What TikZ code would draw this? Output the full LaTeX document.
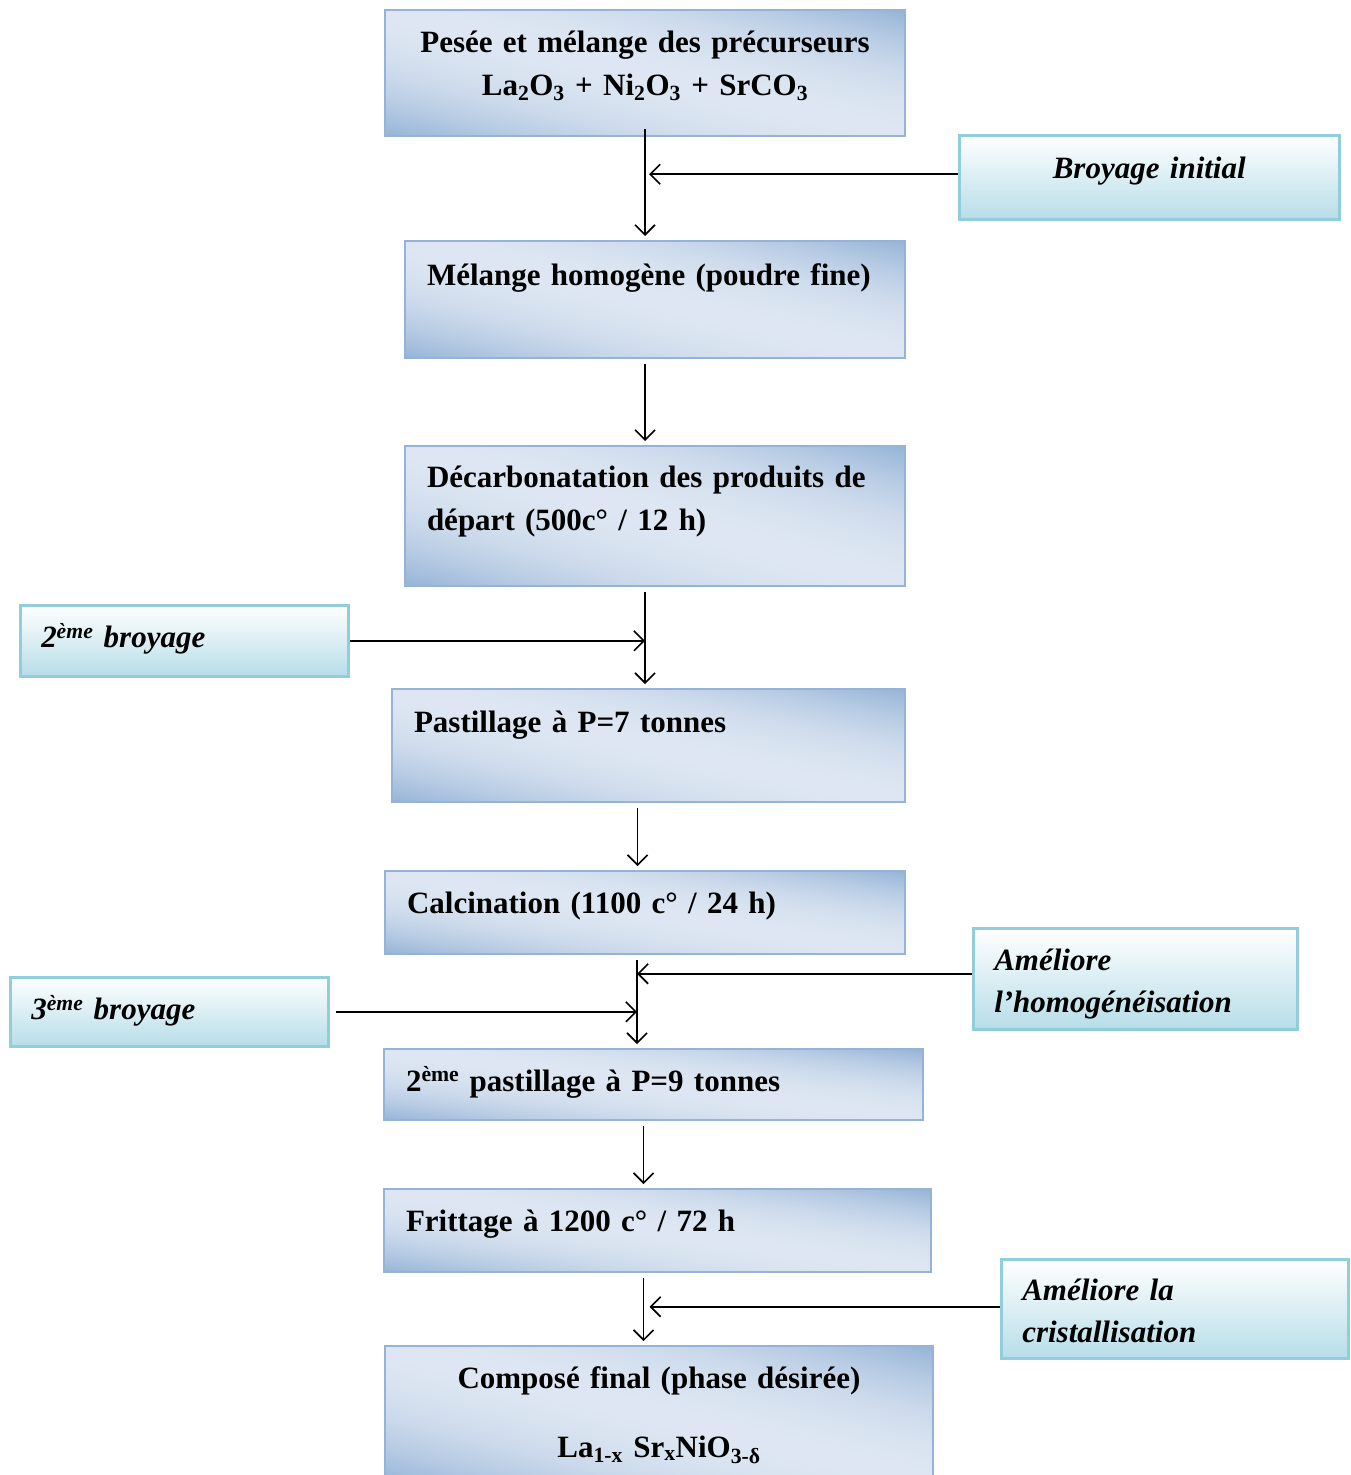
\documentclass[tikz,border=0pt]{standalone}
\usepackage{fontspec}
\setmainfont{Liberation Serif}
\usetikzlibrary{arrows.meta}

\definecolor{mline}{RGB}{149,179,215}
\definecolor{sline}{RGB}{146,205,220}
\definecolor{sdark}{RGB}{183,221,232}

% light along the diagonal, blue in the top-right and bottom-left corners
\pgfdeclarefunctionalshading{mainshade}{\pgfpoint{0bp}{0bp}}{\pgfpoint{100bp}{100bp}}{}{
	add 100 sub 50 div dup mul
	dup -0.283 mul 0.867 add exch
	dup -0.200 mul 0.902 add exch
	-0.106 mul 0.949 add
}

\begin{document}
\begin{tikzpicture}[x=1pt, y=-1pt,
	main/.style = {draw=mline, line width=2pt, shading=mainshade, anchor=north west, inner xsep=22pt, inner ysep=0pt, align=left, font=\fontsize{31}{43}\selectfont\bfseries},
	side/.style = {draw=sline, line width=2.5pt, top color=white, bottom color=sdark, anchor=north west, inner xsep=21pt, inner ysep=0pt, align=left, font=\fontsize{31}{42}\selectfont\bfseries\itshape},
	flow/.style = {-{Straight Barb[length=10pt,width=20pt]}, line width=1.6pt, shorten <=5pt, shorten >=4pt}]
	\useasboundingbox (0,0) rectangle (1351,1475);

	%% Nodes
	\node[main, align=center, text width=476pt, text height=42pt, text depth=84pt] (pesee) at (384,9) {Pesée et mélange des précurseurs\\La\textsubscript{2}O\textsubscript{3} + Ni\textsubscript{2}O\textsubscript{3} + SrCO\textsubscript{3}};
	\node[side, align=center, text width=338pt, text height=43pt, text depth=41pt] (broy) at (958,134) {Broyage initial};

	\node[main, text width=456pt, text height=44pt, text depth=73pt] (melange) at (404,240) {Mélange homogène (poudre fine)};

	\node[main, text width=456pt, text height=41pt, text depth=99pt] (decarb) at (404,445) {Décarbonatation des produits de\\départ (500c° / 12 h)};

	\node[side, text width=286pt, text height=42pt, text depth=29pt] (broy2) at (19,604) {2\textsuperscript{ème} broyage};

	\node[main, text width=469pt, text height=43pt, text depth=70pt] (pastil) at (391,688) {Pastillage à P=7 tonnes};

	\node[main, text width=476pt, text height=42pt, text depth=41pt] (calc) at (384,870) {Calcination (1100 c° / 24 h)};
	\node[side, text width=282pt, text height=42pt, text depth=59pt] (homog) at (972,927) {Améliore\\l’homogénéisation};

	\node[side, text width=276pt, text height=42pt, text depth=27pt] (broy3) at (9,976) {3\textsuperscript{ème} broyage};

	\node[main, text width=495pt, text height=42pt, text depth=29pt] (pastil2) at (383,1048) {2\textsuperscript{ème} pastillage à P=9 tonnes};

	\node[main, text width=503pt, text height=42pt, text depth=41pt] (fritt) at (383,1188) {Frittage à 1200 c° / 72 h};
	\node[side, text width=305pt, text height=41pt, text depth=58pt] (cristal) at (1000,1258) {Améliore la\\cristallisation};

	\node[main, align=center, text width=504pt, text height=42pt, text depth=95pt] (final) at (384,1345) {Composé final (phase désirée)\\[26pt]La\textsubscript{1-x} Sr\textsubscript{x}NiO\textsubscript{3-δ}};

	%% Edges
	\draw[flow, shorten <=-8pt] (pesee.south) -- (pesee.south |- melange.north);
	\draw[flow] (pesee.south |- melange.south) -- (pesee.south |- decarb.north);
	\draw[flow] (pesee.south |- decarb.south) -- (pesee.south |- pastil.north);
	\draw[flow] ([xshift=-11pt]pastil.south) -- ([xshift=-11pt]pastil.south |- calc.north);
	\draw[flow] ([xshift=-8pt]calc.south) -- ([xshift=-8pt]calc.south |- pastil2.north);
	\draw[flow] ([xshift=-10pt]pastil2.south) -- ([xshift=-10pt]pastil2.south |- fritt.north);
	\draw[flow] ([xshift=-14pt]fritt.south) -- ([xshift=-14pt]fritt.south |- final.north);

	\coordinate (s1) at ([yshift=3pt]broy.west);
	\coordinate (s3) at ([yshift=5pt]homog.west);
	\coordinate (s5) at ([yshift=2pt]cristal.west);
	\coordinate (j1) at (pesee.south |- s1);
	\coordinate (j2) at (pesee.south |- broy2.east);
	\coordinate (j3) at ([xshift=-8pt]calc.south |- s3);
	\coordinate (j4) at ([xshift=-8pt]calc.south |- broy3.east);
	\coordinate (j5) at ([xshift=-14pt]fritt.south |- s5);
	\draw[flow, shorten <=0pt] (s1) -- (j1);
	\draw[flow, shorten <=0pt, shorten >=0pt] (broy2.east) -- (j2);
	\draw[flow, shorten <=0pt, shorten >=0pt] (s3) -- (j3);
	\draw[flow, shorten <=6pt, shorten >=0pt] (broy3.east) -- (j4);
	\draw[flow, shorten <=0pt, shorten >=6pt] (s5) -- (j5);
\end{tikzpicture}
\end{document}
